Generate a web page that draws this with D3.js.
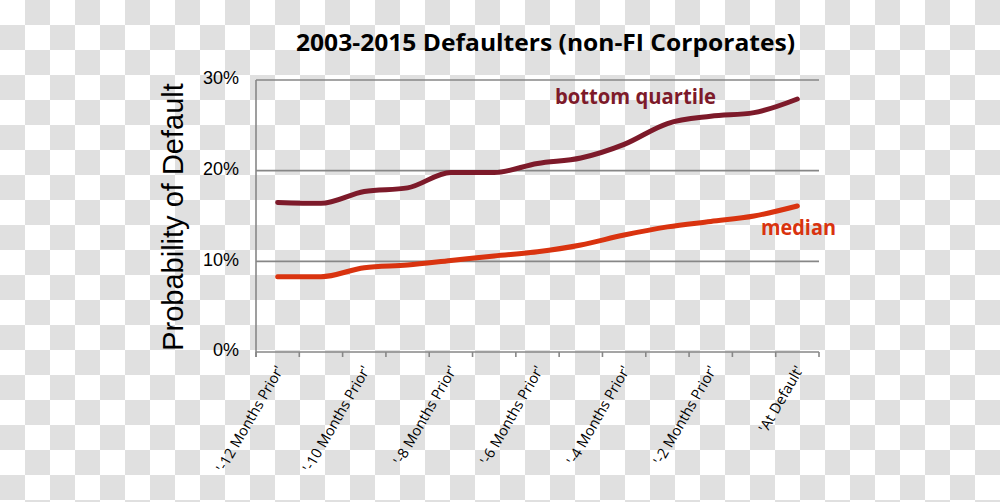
<!DOCTYPE html>
<html>
<head>
<meta charset="utf-8">
<script src="https://cdn.jsdelivr.net/npm/d3@7"></script>
<style>
  body { margin: 0; }
  svg { display: block; }
</style>
</head>
<body>
<div class="graph"></div>
<script>
const w = 1000;
const h = 502;
const margin = {top: 80, right: 181, bottom: 150, left: 256};

const months = ["'-12 Months Prior'", "'-11 Months Prior'", "'-10 Months Prior'", "'-9 Months Prior'",
                "'-8 Months Prior'", "'-7 Months Prior'", "'-6 Months Prior'", "'-5 Months Prior'",
                "'-4 Months Prior'", "'-3 Months Prior'", "'-2 Months Prior'", "'-1 Months Prior'", "'At Default'"];
const bottomQuartile = [16.5, 16.4, 17.7, 18.1, 19.8, 19.8, 20.8, 21.4, 22.9, 25.2, 26.0, 26.4, 27.9];
const medianPD = [8.3, 8.3, 9.3, 9.6, 10.1, 10.6, 11.05, 11.8, 12.9, 13.8, 14.4, 15.0, 16.1];
const yTicks = [0, 10, 20, 30];

const canvas = d3.select('.graph')
               .append("svg")
               .attr("width", w)
               .attr("height", h);

// checkerboard backdrop
const pat = canvas.append("defs").append("pattern")
      .attr("id", "checks")
      .attr("width", 50).attr("height", 50)
      .attr("patternUnits", "userSpaceOnUse");
pat.append("rect").attr("width", 50).attr("height", 50).attr("fill", "#ffffff");
pat.append("rect").attr("x", 25).attr("width", 25).attr("height", 25).attr("fill", "#e0e0e0");
pat.append("rect").attr("y", 25).attr("width", 25).attr("height", 25).attr("fill", "#e0e0e0");
canvas.append("rect").attr("width", w).attr("height", h).attr("fill", "url(#checks)");

const xScale = d3.scaleBand()
                 .domain(months)
                 .range([margin.left, w - margin.right]);

const yScale = d3.scaleLinear()
                 .domain([0, 30])
                 .range([h - margin.bottom, margin.top]);

//gridlines
canvas.append("g")
      .selectAll("line")
      .data(yTicks)
      .enter().append("line")
      .attr("x1", margin.left)
      .attr("x2", w - margin.right)
      .attr("y1", d => yScale(d))
      .attr("y2", d => yScale(d))
      .attr("stroke", "#878787")
      .attr("stroke-width", 1.6);

//y-axis
const yAxis = d3.axisLeft(yScale)
                .tickValues(yTicks)
                .tickSize(0)
                .tickPadding(17)
                .tickFormat(d => d + "%");

const yG = canvas.append("g")
      .attr("id", "y-axis")
      .attr("transform", `translate(${margin.left}, 0)`)
      .call(yAxis);
yG.select(".domain").remove();
yG.selectAll("text")
  .attr("font-family", "'Liberation Sans', Arial, sans-serif")
  .attr("font-size", 18)
  .attr("fill", "#000")
  .attr("dy", "0.22em");

canvas.append("line")
      .attr("x1", margin.left).attr("x2", margin.left)
      .attr("y1", margin.top).attr("y2", h - margin.bottom + 5)
      .attr("stroke", "#878787")
      .attr("stroke-width", 1.6);

//x-axis
const boundaries = months.map(m => xScale(m)).concat([w - margin.right]);
canvas.append("g")
      .selectAll("line")
      .data(boundaries)
      .enter().append("line")
      .attr("x1", d => d).attr("x2", d => d)
      .attr("y1", h - margin.bottom)
      .attr("y2", h - margin.bottom + 5)
      .attr("stroke", "#878787")
      .attr("stroke-width", 1.6);

canvas.append("g")
      .selectAll("text")
      .data(months.filter((d, i) => i % 2 === 0))
      .enter().append("text")
      .attr("transform", d => `translate(${xScale(d) + xScale.bandwidth() / 2 + 2}, ${h - margin.bottom + 15}) rotate(-60)`)
      .attr("text-anchor", "end")
      .attr("dy", "0.35em")
      .attr("font-family", "'Open Sans', sans-serif")
      .attr("font-size", 14.5)
      .attr("fill", "#000")
      .text(d => d);

//lines
const line = d3.line()
               .x((d, i) => xScale(months[i]) + xScale.bandwidth() / 2)
               .y(d => yScale(d))
               .curve(d3.curveMonotoneX);

canvas.append("path")
      .datum(medianPD)
      .attr("d", line)
      .attr("fill", "none")
      .attr("stroke", "#d9330f")
      .attr("stroke-width", 5)
      .attr("stroke-linecap", "round");

canvas.append("path")
      .datum(bottomQuartile)
      .attr("d", line)
      .attr("fill", "none")
      .attr("stroke", "#7d1a2a")
      .attr("stroke-width", 5)
      .attr("stroke-linecap", "round");

//labels
canvas.append("text")
      .attr("x", 555).attr("y", 104)
      .attr("font-family", "'Open Sans', sans-serif")
      .attr("font-weight", "bold")
      .attr("font-size", 21)
      .attr("textLength", 161)
      .attr("lengthAdjust", "spacingAndGlyphs")
      .attr("fill", "#7d1a2a")
      .text("bottom quartile");

canvas.append("text")
      .attr("x", 761).attr("y", 235)
      .attr("font-family", "'Open Sans', sans-serif")
      .attr("font-weight", "bold")
      .attr("font-size", 21)
      .attr("textLength", 75)
      .attr("lengthAdjust", "spacingAndGlyphs")
      .attr("fill", "#d9330f")
      .text("median");

//title
canvas.append("text")
      .attr("x", 296).attr("y", 51)
      .attr("font-family", "'Open Sans', sans-serif")
      .attr("font-weight", "bold")
      .attr("font-size", 24)
      .attr("textLength", 499)
      .attr("lengthAdjust", "spacingAndGlyphs")
      .attr("fill", "#000")
      .text("2003-2015 Defaulters (non-FI Corporates)");

canvas.append("text")
      .attr("transform", "translate(183, 217) rotate(-90)")
      .attr("text-anchor", "middle")
      .attr("font-family", "'Liberation Sans', Arial, sans-serif")
      .attr("font-size", 29)
      .attr("fill", "#000")
      .text("Probability of Default");
</script>
</body>
</html>
